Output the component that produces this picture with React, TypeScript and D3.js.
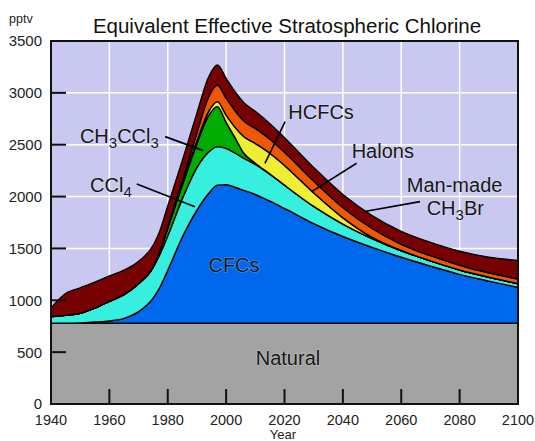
import * as d3 from "d3"

// years sampled from the chart
const years = [1940, 1945, 1950, 1955, 1960, 1965, 1970, 1975, 1977, 1980, 1985, 1990, 1994, 1997, 2000, 2003, 2006, 2010, 2015, 2020, 2030, 2040, 2050, 2060, 2070, 2080, 2090, 2100]

// pptv contributions (stacked bottom -> top)
const natural = years.map(() => 780)
const cfcs = [0, 0, 2, 10, 20, 45, 110, 240, 330, 510, 830, 1090, 1250, 1330, 1335, 1310, 1280, 1240, 1175, 1105, 960, 835, 730, 635, 550, 470, 405, 345]
const ccl4 = [62, 75, 93, 135, 190, 230, 270, 300, 315, 330, 370, 410, 400, 372, 350, 330, 310, 290, 260, 225, 165, 120, 85, 62, 50, 42, 37, 35]
const ch3ccl3 = [0, 0, 0, 0, 0, 0, 0, 0, 20, 75, 130, 230, 350, 385, 250, 150, 50, 12, 3, 0, 0, 0, 0, 0, 0, 0, 0, 0]
const hcfcs = [0, 0, 0, 0, 0, 0, 0, 0, 0, 5, 12, 25, 40, 48, 70, 100, 160, 190, 200, 190, 130, 60, 12, 3, 0, 0, 0, 0]
const halons = [0, 0, 0, 0, 0, 0, 0, 0, 3, 10, 30, 80, 140, 161, 165, 160, 152, 145, 135, 128, 115, 100, 85, 60, 50, 46, 43, 45]
const ch3br = [85, 210, 245, 250, 245, 235, 215, 210, 200, 200, 195, 190, 192, 193, 190, 183, 175, 165, 150, 140, 130, 125, 125, 125, 128, 135, 150, 180]

const xTicks = [1940, 1960, 1980, 2000, 2020, 2040, 2060, 2080, 2100]
const yTicks = [0, 500, 1000, 1500, 2000, 2500, 3000, 3500]

const keys = ["natural", "cfcs", "ccl4", "ch3ccl3", "hcfcs", "halons", "ch3br"]
const colors: Record<string, string> = {
  natural: "#a3a3a3",
  cfcs: "#0068ec",
  ccl4: "#36efdf",
  ch3ccl3: "#00ac00",
  hcfcs: "#eeee33",
  halons: "#ef5800",
  ch3br: "#770000",
}

const font = "'Liberation Sans', Arial, Helvetica, sans-serif"

export default function App() {
  const width = 535
  const height = 441
  const left = 51
  const right = 518
  const top = 41
  const bottom = 404

  const x = d3.scaleLinear().domain([1940, 2100]).range([left, right])
  const y = d3.scaleLinear().domain([0, 3500]).range([bottom, top])

  const rows = years.map((yr, i) => ({
    year: yr,
    natural: natural[i],
    cfcs: cfcs[i],
    ccl4: ccl4[i],
    ch3ccl3: ch3ccl3[i],
    hcfcs: hcfcs[i],
    halons: halons[i],
    ch3br: ch3br[i],
  }))

  const series = d3.stack<any>().keys(keys)(rows)

  const area = d3
    .area<any>()
    .x((d) => x(d.data.year))
    .y0((d) => y(d[0]))
    .y1((d) => y(d[1]))
    .curve(d3.curveMonotoneX)

  const label = {
    fontFamily: font,
    fill: "#161616",
    stroke: "rgba(255,255,255,0.35)",
    strokeWidth: 1.2,
    paintOrder: "stroke",
  } as any

  const pointer = (x1: number, v1: number, x2: number, v2: number) => (
    <line x1={x(x1)} y1={y(v1)} x2={x(x2)} y2={y(v2)} stroke="#000" strokeWidth={1.6} />
  )

  return (
    <svg
      width={width}
      height={height}
      style={{ position: "fixed", left: 0, top: 0, background: "#fff" }}
    >
      {/* plot background */}
      <rect x={left} y={top} width={right - left} height={bottom - top} fill="#c8c8f0" />

      {/* grid */}
      {xTicks.slice(1, -1).map((t) => (
        <line key={"gx" + t} x1={x(t)} x2={x(t)} y1={top} y2={bottom} stroke="#fff" strokeWidth={1.5} />
      ))}
      {yTicks.slice(1, -1).map((t) => (
        <line key={"gy" + t} x1={left} x2={right} y1={y(t)} y2={y(t)} stroke="#fff" strokeWidth={1.5} />
      ))}

      {/* stacked areas */}
      {series.map((s) => (
        <path
          key={s.key}
          d={area(s) || ""}
          fill={colors[s.key]}
          stroke="#000"
          strokeWidth={1.4}
          strokeLinejoin="round"
        />
      ))}

      {/* frame */}
      <rect x={left} y={top} width={right - left} height={bottom - top} fill="none" stroke="#111" strokeWidth={2} />

      {/* ticks */}
      {yTicks.slice(1, -1).map((t) => (
        <line key={"ty" + t} x1={left} x2={left + 15} y1={y(t)} y2={y(t)} stroke="#111" strokeWidth={2} />
      ))}
      {xTicks.slice(1, -1).map((t) => (
        <line key={"tx" + t} x1={x(t)} x2={x(t)} y1={bottom} y2={bottom - 15} stroke="#111" strokeWidth={2} />
      ))}

      {/* tick labels */}
      {yTicks.map((t) => (
        <text key={"ly" + t} x={42} y={y(t)} dy="0.36em" textAnchor="end" fontSize={15} fontFamily={font} fill="#222">
          {t}
        </text>
      ))}
      {xTicks.map((t) => (
        <text key={"lx" + t} x={x(t)} y={425} textAnchor="middle" fontSize={14.5} fontFamily={font} fill="#222">
          {t}
        </text>
      ))}

      <text x={283} y={439} textAnchor="middle" fontSize={13} fontFamily={font} fill="#222">
        Year
      </text>
      <text x={9} y={23} fontSize={12.5} fontFamily={font} fill="#222">
        pptv
      </text>
      <text x={287} y={33} textAnchor="middle" fontSize={20.5} fontFamily={font} fill="#111">
        Equivalent Effective Stratospheric Chlorine
      </text>

      {/* series labels */}
      <text x={x(2021.2)} y={y(380)} textAnchor="middle" fontSize={20} {...label}>
        Natural
      </text>
      <text x={x(2002.7)} y={y(1276)} textAnchor="middle" fontSize={20} {...label}>
        CFCs
      </text>

      <text x={x(1949.9)} y={y(2514)} fontSize={20} {...label}>
        CH<tspan fontSize={15} dy={5}>3</tspan>
        <tspan dy={-5}>CCl</tspan>
        <tspan fontSize={15} dy={5}>3</tspan>
      </text>
      {pointer(1979.1, 2578, 1992.2, 2443)}

      <text x={x(1953.4)} y={y(2047)} fontSize={20} {...label}>
        CCl<tspan fontSize={15} dy={5}>4</tspan>
      </text>
      {pointer(1969.4, 2121, 1989.3, 1903)}

      <text x={x(2021.3)} y={y(2745)} fontSize={20} {...label}>
        HCFCs
      </text>
      {pointer(2020.2, 2722, 2013.3, 2321)}

      <text x={x(2043)} y={y(2369)} fontSize={20} {...label}>
        Halons
      </text>
      {pointer(2044.7, 2321, 2029.3, 2047)}

      <text x={x(2061.9)} y={y(2047)} fontSize={20} {...label}>
        Man-made
      </text>
      <text x={x(2068.7)} y={y(1823)} fontSize={20} {...label}>
        CH<tspan fontSize={15} dy={5}>3</tspan>
        <tspan dy={-5}>Br</tspan>
      </text>
      {pointer(2066.4, 1951, 2047, 1854)}
    </svg>
  )
}
